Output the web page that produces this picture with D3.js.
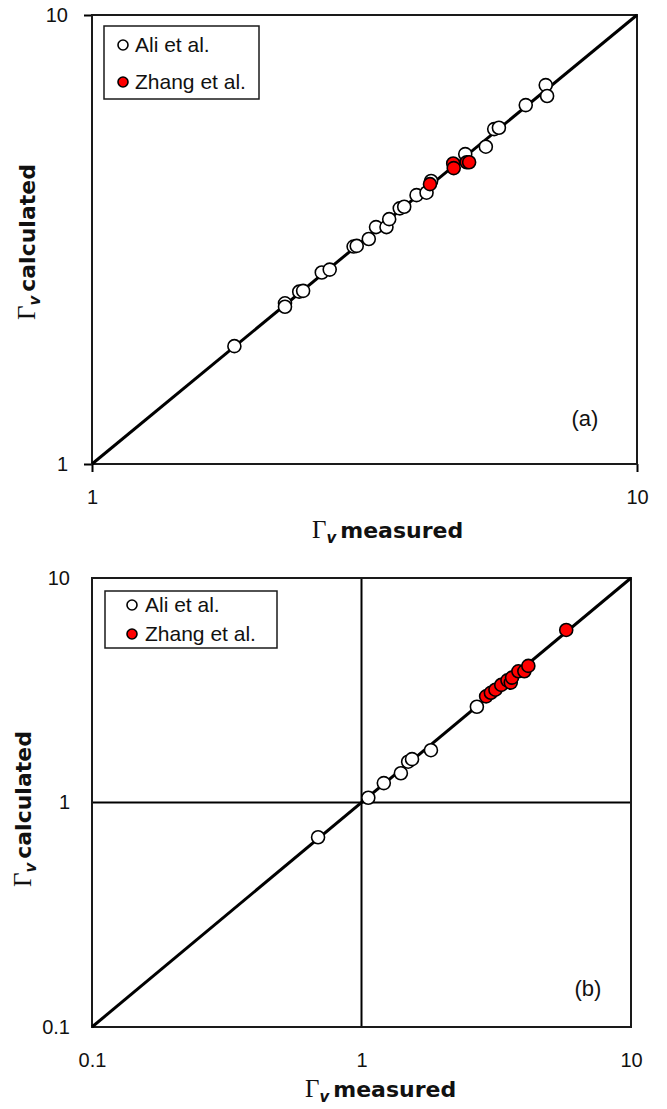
<!DOCTYPE html>
<html>
<head>
<meta charset="utf-8">
<script src="https://cdn.jsdelivr.net/npm/d3@7"></script>
<style>
  html, body { margin: 0; padding: 0; background: #fff; }
  svg { display: block; }
</style>
</head>
<body>
<svg id="chart" width="667" height="1109"></svg>
<script>
// Panel (a): measured vs calculated Γv, both axes log 1–10
const aliA = [
  [1.825, 1.83], [2.26, 2.28], [2.26, 2.24], [2.40, 2.42], [2.44, 2.43],
  [2.64, 2.67], [2.73, 2.71], [3.02, 3.05], [3.06, 3.06], [3.22, 3.17],
  [3.32, 3.37], [3.47, 3.37], [3.51, 3.51], [3.67, 3.71], [3.74, 3.74],
  [3.94, 3.97], [4.11, 4.02], [4.19, 4.27], [4.84, 4.90], [5.28, 5.09],
  [5.47, 5.57], [5.58, 5.61], [6.25, 6.30], [6.80, 6.98], [6.84, 6.60]
];
const zhangA = [
  [4.17, 4.20], [4.60, 4.67], [4.61, 4.56], [4.87, 4.70], [4.92, 4.70]
];

// Panel (b): both axes log 0.1–10
const aliB = [
  [0.69, 0.70], [1.06, 1.05], [1.21, 1.22], [1.40, 1.35], [1.49, 1.52],
  [1.54, 1.56], [1.81, 1.71], [2.68, 2.67]
];
const zhangB = [
  [2.90, 2.97], [3.02, 3.08], [3.14, 3.18], [3.30, 3.34], [3.48, 3.50],
  [3.58, 3.42], [3.62, 3.60], [3.82, 3.84], [4.02, 3.84], [4.16, 4.06],
  [5.75, 5.87]
];

const ticksA = [1, 10];
const ticksB = [0.1, 1, 10];
const seriesNames = ["Ali et al.", "Zhang et al."];
const seriesFill = ["#ffffff", "#ff0000"];

const svg = d3.select("#chart");
svg.append("rect").attr("width", 667).attr("height", 1109).attr("fill", "#fff");

const TICK_FONT = "'Liberation Sans', Arial, sans-serif";
const TITLE_FONT = "'DejaVu Sans', sans-serif";

function drawPanel(opt) {
  const g = svg.append("g");
  const x = d3.scaleLog().domain(opt.domain).range(opt.xRange);
  const y = d3.scaleLog().domain(opt.domain).range(opt.yRange);
  const [x0, x1] = opt.xRange, [y0, y1] = opt.yRange;

  // axes (ticks + labels only, the box is drawn separately)
  const yAxis = d3.axisLeft(y).tickValues(opt.ticks).tickFormat(d3.format("~g"))
    .tickSize(opt.tickSize).tickPadding(opt.yPad);
  const xAxis = d3.axisBottom(x).tickValues(opt.ticks).tickFormat(d3.format("~g"))
    .tickSize(opt.tickSize).tickPadding(opt.xPad);
  const ya = g.append("g").attr("transform", `translate(${x0},0)`).call(yAxis);
  const xa = g.append("g").attr("transform", `translate(0,${y0})`).call(xAxis);
  [ya, xa].forEach(a => {
    a.select(".domain").remove();
    a.selectAll("line").attr("stroke", "#000").attr("stroke-width", 2);
    a.selectAll("text").attr("fill", "#111").style("font-family", TICK_FONT).style("font-size", "20px");
  });

  // gridlines through 1 (panel b)
  if (opt.grid) {
    g.append("line").attr("x1", x(1)).attr("x2", x(1)).attr("y1", y0).attr("y2", y1)
      .attr("stroke", "#000").attr("stroke-width", 2);
    g.append("line").attr("x1", x0).attr("x2", x1).attr("y1", y(1)).attr("y2", y(1))
      .attr("stroke", "#000").attr("stroke-width", 2);
  }

  // plot frame
  g.append("rect").attr("x", x0).attr("y", y1).attr("width", x1 - x0).attr("height", y0 - y1)
    .attr("fill", "none").attr("stroke", "#1a1a1a").attr("stroke-width", 2);

  // 1:1 line
  const lo = opt.domain[0], hi = opt.domain[1];
  g.append("line").attr("x1", x(lo)).attr("y1", y(lo)).attr("x2", x(hi)).attr("y2", y(hi))
    .attr("stroke", "#000").attr("stroke-width", 3);

  // points
  [opt.ali, opt.zhang].forEach((data, i) => {
    g.append("g").selectAll("circle").data(data).join("circle")
      .attr("cx", d => x(d[0])).attr("cy", d => y(d[1])).attr("r", 6.5)
      .attr("fill", seriesFill[i]).attr("stroke", "#000").attr("stroke-width", 1.6);
  });

  // legend
  const L = opt.legend;
  g.append("rect").attr("x", L.x).attr("y", L.y).attr("width", L.w).attr("height", L.h)
    .attr("fill", "#fff").attr("stroke", "#1a1a1a").attr("stroke-width", 1.5);
  seriesNames.forEach((name, i) => {
    const cy = L.y + L.row0 + i * L.step;
    g.append("circle").attr("cx", L.mx).attr("cy", cy).attr("r", 5)
      .attr("fill", seriesFill[i]).attr("stroke", "#000").attr("stroke-width", 1.6);
    g.append("text").attr("x", L.tx).attr("y", cy).attr("dy", "0.35em")
      .style("font-family", TICK_FONT).style("font-size", "21px").attr("fill", "#111").text(name);
  });

  // panel tag
  g.append("text").attr("x", opt.tag.x).attr("y", opt.tag.y).attr("dy", "0.35em")
    .attr("text-anchor", "middle").style("font-family", TICK_FONT).style("font-size", "22px")
    .attr("fill", "#111").text(opt.tag.text);

  // axis titles: Γ (serif) with italic ν subscript and bold word
  function title(sel, word) {
    sel.append("tspan").style("font-family", "'Liberation Serif', serif").style("font-size", "25px")
      .style("font-weight", "normal").text("Γ");
    sel.append("tspan").style("font-family", TITLE_FONT).style("font-size", "15px")
      .style("font-weight", "bold").style("font-style", "italic").attr("dy", 5).text("v");
    sel.append("tspan").style("font-family", TITLE_FONT).style("font-size", "22px")
      .style("font-weight", "bold").attr("dy", -5).attr("dx", 4).text(word);
  }
  title(g.append("text").attr("x", opt.xTitle.x).attr("y", opt.xTitle.y).attr("fill", "#111"), "measured");
  title(g.append("text").attr("transform", `translate(${opt.yTitle.x},${opt.yTitle.y}) rotate(-90)`)
    .attr("fill", "#111"), "calculated");
}

drawPanel({
  domain: [1, 10], ticks: ticksA, xRange: [92, 637], yRange: [464, 15],
  tickSize: 8, yPad: 16, xPad: 18, grid: false,
  ali: aliA, zhang: zhangA,
  legend: { x: 104, y: 26, w: 155, h: 73, row0: 19, step: 37, mx: 123, tx: 135 },
  tag: { x: 585, y: 418, text: "(a)" },
  xTitle: { x: 312, y: 538 }, yTitle: { x: 35, y: 320 }
});

drawPanel({
  domain: [0.1, 10], ticks: ticksB, xRange: [92, 631], yRange: [1027, 578],
  tickSize: 0, yPad: 22, xPad: 26, grid: true,
  ali: aliB, zhang: zhangB,
  legend: { x: 105, y: 591, w: 172, h: 57, row0: 14, step: 29, mx: 132, tx: 145 },
  tag: { x: 588, y: 988, text: "(b)" },
  xTitle: { x: 305, y: 1097 }, yTitle: { x: 31, y: 887 }
});
</script>
</body>
</html>
